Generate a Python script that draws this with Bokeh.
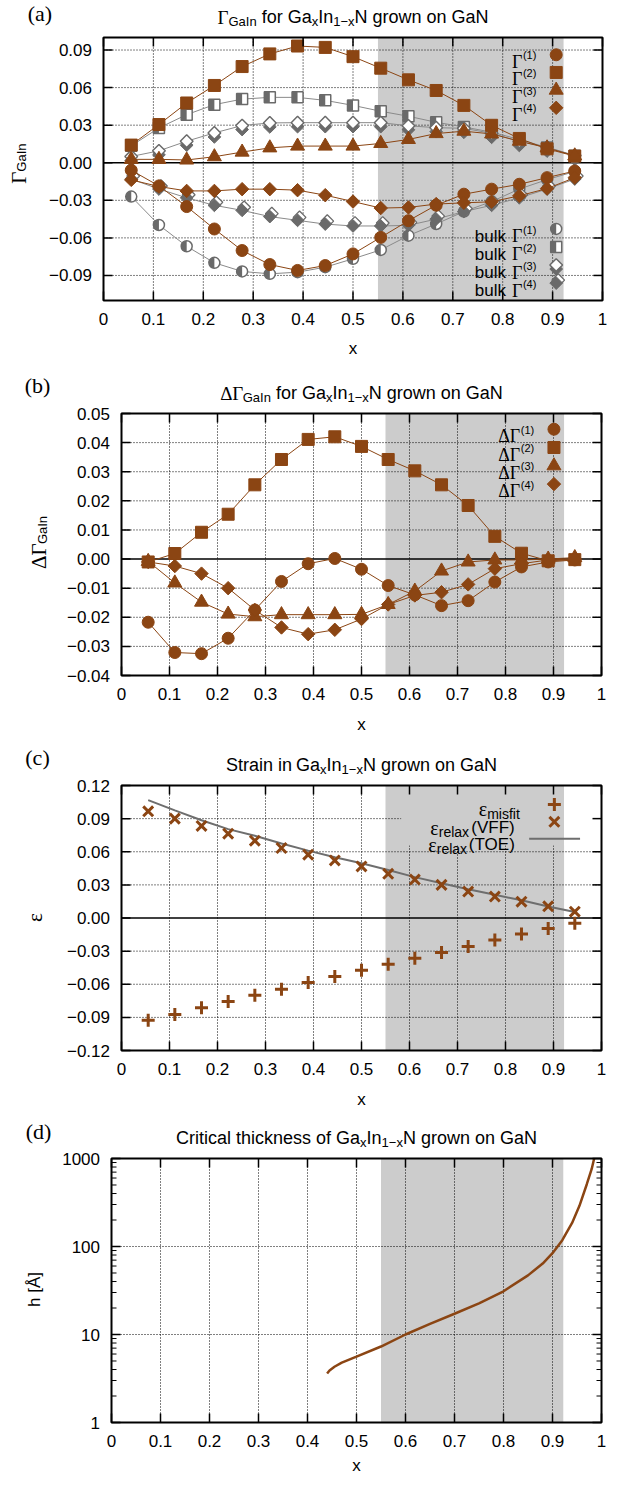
import numpy as np
from bokeh.plotting import figure
from bokeh.models import Label, Range1d
from bokeh.layouts import column
from bokeh.embed import file_html
from bokeh.resources import INLINE
from bokeh.core.properties import value

# ---------------- data ----------------
X = [0.0556, 0.1111, 0.1667, 0.2222, 0.2778, 0.3333, 0.3889, 0.4444, 0.5,
     0.5556, 0.6111, 0.6667, 0.7222, 0.7778, 0.8333, 0.8889, 0.9444]

# panel (a)
G1 = [-0.006, -0.0185, -0.035, -0.0529, -0.0701, -0.0813, -0.086, -0.0821, -0.0728,
      -0.0596, -0.0463, -0.0339, -0.0251, -0.0211, -0.0172, -0.0119, -0.0066]
G2 = [0.0141, 0.0305, 0.0477, 0.0617, 0.0768, 0.0869, 0.0932, 0.0921, 0.0847,
      0.0755, 0.0662, 0.0577, 0.0458, 0.0299, 0.0194, 0.0111, 0.0053]
G3 = [0.0027, 0.0027, 0.0022, 0.0048, 0.0085, 0.0119, 0.0133, 0.0133, 0.0133,
      0.0154, 0.0186, 0.0233, 0.0252, 0.023, 0.0172, 0.0119, 0.0055]
G4 = [-0.0137, -0.019, -0.0225, -0.0225, -0.0211, -0.0211, -0.0219, -0.0259, -0.031,
      -0.0362, -0.0357, -0.033, -0.032, -0.0312, -0.0264, -0.0206, -0.0119]
BG1 = [-0.027, -0.0497, -0.0667, -0.0799, -0.0868, -0.0887, -0.0874, -0.0834, -0.0767,
       -0.0696, -0.0582, -0.0489, -0.039, -0.031, -0.021, -0.0135, -0.007]
BG2 = [0.0135, 0.0278, 0.0384, 0.0464, 0.0508, 0.0522, 0.0522, 0.0498, 0.0458,
       0.0411, 0.0371, 0.0323, 0.0286, 0.0244, 0.0186, 0.0122, 0.0055]
BG3 = [0.005, 0.0095, 0.0172, 0.0238, 0.0297, 0.0318, 0.032, 0.032, 0.032,
       0.032, 0.0295, 0.028, 0.0275, 0.0235, 0.017, 0.0125, 0.0058]
BG4 = [-0.013, -0.021, -0.028, -0.034, -0.038, -0.043, -0.046, -0.049, -0.0505,
       -0.0505, -0.05, -0.045, -0.039, -0.034, -0.028, -0.021, -0.013]

# panel (b)
DG1 = [-0.0217, -0.0321, -0.0325, -0.0272, -0.0175, -0.0077, -0.0016, 0.0002, -0.0035,
       -0.0091, -0.0123, -0.016, -0.0143, -0.0079, -0.0027, -0.001, -0.0003]
DG2 = [-0.001, 0.0019, 0.0092, 0.0154, 0.0255, 0.0342, 0.0411, 0.042, 0.0387,
       0.0342, 0.0303, 0.0255, 0.0184, 0.0078, 0.002, -0.0006, -0.0002]
DG3 = [-0.0008, -0.0082, -0.0148, -0.0189, -0.0198, -0.0191, -0.0191, -0.0191, -0.019,
       -0.0156, -0.011, -0.0041, -0.001, -0.0003, -0.0003, 0.0, 0.0005]
DG4 = [-0.001, -0.0024, -0.005, -0.01, -0.0175, -0.0235, -0.0258, -0.0243, -0.0206,
       -0.0156, -0.0125, -0.0114, -0.0087, -0.0033, -0.0016, -0.0003, 0.0]

# panel (c)
MISFIT = [-0.0927, -0.0873, -0.0812, -0.0757, -0.07, -0.0645, -0.0585, -0.053, -0.0473,
          -0.0418, -0.0364, -0.0312, -0.0258, -0.02, -0.0145, -0.0094, -0.0048]
VFF = [0.0966, 0.09, 0.0834, 0.0764, 0.07, 0.0634, 0.0573, 0.0521, 0.0467,
       0.04, 0.0348, 0.03, 0.0239, 0.0194, 0.0148, 0.0106, 0.0057]
TOE = [0.1067, 0.0975, 0.0885, 0.0805, 0.0745, 0.0675, 0.061, 0.055, 0.0495,
       0.0435, 0.037, 0.0315, 0.026, 0.021, 0.016, 0.0105, 0.0055]

# panel (d)
HX = [0.44, 0.445, 0.455, 0.47, 0.5, 0.55, 0.6, 0.65, 0.7, 0.75, 0.8, 0.85,
      0.88, 0.9, 0.92, 0.94, 0.955, 0.97, 0.98, 0.985]
HY = [3.6, 3.9, 4.3, 4.8, 5.6, 7.3, 10.0, 13.2, 17.2, 22.6, 31.0, 47.0,
      64.0, 84.0, 118.0, 185.0, 290.0, 510.0, 760.0, 1000.0]

SHADE_X = [0.55, 0.922]

XTICKS = [0.0, 0.1, 0.2, 0.3, 0.4, 0.5, 0.6, 0.7, 0.8, 0.9, 1.0]
XTICK_LABELS = ["0", "0.1", "0.2", "0.3", "0.4", "0.5", "0.6", "0.7", "0.8", "0.9", "1"]
YTICKS_A = [-0.09, -0.06, -0.03, 0.0, 0.03, 0.06, 0.09]
YLABELS_A = ["\u22120.09", "\u22120.06", "\u22120.03", "0.00", "0.03", "0.06", "0.09"]
YTICKS_B = [-0.04, -0.03, -0.02, -0.01, 0.0, 0.01, 0.02, 0.03, 0.04, 0.05]
YLABELS_B = ["\u22120.04", "\u22120.03", "\u22120.02", "\u22120.01", "0.00",
             "0.01", "0.02", "0.03", "0.04", "0.05"]
YTICKS_C = [-0.12, -0.09, -0.06, -0.03, 0.0, 0.03, 0.06, 0.09, 0.12]
YLABELS_C = ["\u22120.12", "\u22120.09", "\u22120.06", "\u22120.03", "0.00",
             "0.03", "0.06", "0.09", "0.12"]
YTICKS_D = [1, 10, 100, 1000]
YLABELS_D = ["1", "10", "100", "1000"]
YMINOR_D = [2, 3, 4, 5, 6, 7, 8, 9, 20, 30, 40, 50, 60, 70, 80, 90,
            200, 300, 400, 500, 600, 700, 800, 900]

# ---------------- style ----------------
BROWN = "#8b4513"
GRAY = "#6a6a6a"
GRAYLINE = "#8a8a8a"
SHADE = "#cccccc"
SANS = "Liberation Sans"
SERIF = "Liberation Serif"
TICK_FONT = "17px"

W_SANS = {' ': 278, '(': 333, ')': 333, '[': 278, ']': 278, '.': 278, '\u2212': 584,
          'A': 667, 'C': 722, 'E': 667, 'F': 611, 'G': 778, 'I': 278, 'N': 722,
          'O': 778, 'S': 611, 'T': 611, 'V': 667, '\u00c5': 667,
          'a': 556, 'c': 500, 'e': 556, 'f': 278, 'g': 556, 'h': 556, 'i': 222,
          'k': 500, 'l': 222, 'm': 833, 'n': 556, 'o': 556, 'r': 333, 's': 500,
          't': 278, 'w': 722, 'x': 500, '\u03b5': 450}
W_SERIF = {' ': 250, '\u0393': 578, '\u0394': 612, '\u03b5': 440, '(': 333, ')': 333}


def text_width(s, font, size):
    table = W_SERIF if font == SERIF else W_SANS
    return sum(table.get(c, 556) for c in s) * size / 1000.0


PAGE_L = 8
FIG_W = 607
# r* : plot box in the reference picture, L/R/T/B : plot box on this page,
# top/h : figure placement on this page, hdr : panel letter offset, xl : x label offset
PANELS = {
    'a': dict(rL=110.7, rR=610.7, rT=41.7, rB=305.0, L=111, R=610, T=45, B=308,
              top=8, h=362, yr=(-0.11, 0.10), log=False, hdr=-24, xl=48),
    'b': dict(rL=132.0, rR=617.7, rT=421.0, rB=683.0, L=129, R=609, T=421, B=683,
              top=370, h=375, yr=(-0.04, 0.05), log=False, hdr=-28, xl=49),
    'c': dict(rL=132.0, rR=617.7, rT=796.0, rB=1061.0, L=129, R=609, T=793, B=1058,
              top=745, h=373, yr=(-0.12, 0.12), log=False, hdr=-28, xl=49),
    'd': dict(rL=121.0, rR=618.0, rT=1174.0, rB=1438.0, L=119, R=609, T=1166, B=1430,
              top=1118, h=366, yr=(1, 1000), log=True, hdr=-27, xl=43),
}


def px2x(g, Xm):
    return XTICKS[0] + (Xm - g['L']) / (g['R'] - g['L']) * (XTICKS[-1] - XTICKS[0])


def px2y(g, Ym):
    f = (g['B'] - Ym) / (g['B'] - g['T'])
    y0, y1 = g['yr']
    if g['log']:
        return 10 ** (np.log10(y0) + f * (np.log10(y1) - np.log10(y0)))
    return y0 + f * (y1 - y0)


def r2p(g, Xr, Yr):
    Xm = g['L'] + (Xr - g['rL']) / (g['rR'] - g['rL']) * (g['R'] - g['L'])
    Ym = g['T'] + (Yr - g['rT']) / (g['rB'] - g['rT']) * (g['B'] - g['T'])
    return Xm, Ym


def r2d(g, Xr, Yr):
    Xm, Ym = r2p(g, Xr, Yr)
    return px2x(g, Xm), px2y(g, Ym)


def put_label(p, g, Xm, Ym, text, font=SANS, size=16, align='left',
              baseline='alphabetic', angle=0.0):
    p.add_layout(Label(x=px2x(g, Xm), y=px2y(g, Ym), x_units='data', y_units='data',
                       text=text, text_font=font, text_font_size=f"{size}px",
                       text_align=align, text_baseline=baseline, angle=angle,
                       text_color='black'))


def put_ref_label(p, g, Xr, Yr, text, font=SANS, size=16, align='left',
                  baseline='alphabetic', angle=0.0):
    Xm, Ym = r2p(g, Xr, Yr)
    put_label(p, g, Xm, Ym, text, font, size, align, baseline, angle)


def rich_center(p, g, Xr, Yr, pieces):
    Xc, Yb = r2p(g, Xr, Yr)
    total = sum(text_width(t, f, s) for t, f, s, d in pieces)
    x = Xc - total / 2.0
    for t, f, s, d in pieces:
        core = t.strip(' ')
        lead = len(t) - len(t.lstrip(' '))
        put_label(p, g, x + text_width(' ' * lead, f, s), Yb + d, core, f, s)
        x += text_width(t, f, s)


def rich_vertical(p, g, Xr, Yr, pieces):
    Xb, Yc = r2p(g, Xr, Yr)
    total = sum(text_width(t, f, s) for t, f, s, d in pieces)
    y = Yc + total / 2.0
    for t, f, s, d in pieces:
        put_label(p, g, Xb + d, y, t, f, s, angle=np.pi / 2)
        y -= text_width(t, f, s)


def draw_marker(p, g, kind, xs, ys):
    dxp = (XTICKS[-1] - XTICKS[0]) / (g['R'] - g['L'])
    dyp = (g['yr'][1] - g['yr'][0]) / (g['B'] - g['T'])
    if kind == 'circle':
        p.scatter(xs, ys, marker='circle', size=12, fill_color=BROWN, line_color=BROWN)
    elif kind == 'square':
        p.scatter(xs, ys, marker='square', size=12, fill_color=BROWN, line_color=BROWN)
    elif kind == 'triangle':
        p.scatter(xs, ys, marker='triangle', size=14, fill_color=BROWN, line_color=BROWN)
    elif kind == 'diamond':
        p.scatter(xs, ys, marker='square', angle=np.pi / 4, size=9.5,
                  fill_color=BROWN, line_color=BROWN)
    elif kind == 'plus':
        p.scatter(xs, ys, marker='cross', size=13, line_color=BROWN, line_width=3)
    elif kind == 'x':
        p.scatter(xs, ys, marker='x', size=14, line_color=BROWN, line_width=3)
    elif kind == 'bulk1':
        p.scatter(xs, ys, marker='circle', size=11, fill_color='white',
                  line_color=GRAY, line_width=1.5)
        p.wedge(xs, ys, radius=5.5, radius_units='screen', start_angle=np.pi / 2,
                end_angle=3 * np.pi / 2, fill_color=GRAY, line_color=None)
    elif kind == 'bulk2':
        p.scatter(xs, ys, marker='square', size=11, fill_color='white',
                  line_color=GRAY, line_width=1.5)
        p.rect([x - 2.75 * dxp for x in xs], ys, width=5.5, height=11,
               width_units='screen', height_units='screen', fill_color=GRAY, line_color=None)
    elif kind == 'bulk3':
        p.scatter(xs, [y - 4 * dyp for y in ys], marker='square', angle=np.pi / 4, size=9,
                  fill_color=GRAY, line_color=GRAY)
        p.scatter(xs, ys, marker='square', angle=np.pi / 4, size=9,
                  fill_color='white', line_color=GRAY, line_width=1.5)
    elif kind == 'bulk4':
        p.scatter([x + 2 * dxp for x in xs], [y + 3 * dyp for y in ys], marker='square',
                  angle=np.pi / 4, size=9, fill_color='white', line_color=GRAY, line_width=1.3)
        p.scatter(xs, ys, marker='square', angle=np.pi / 4, size=9,
                  fill_color=GRAY, line_color=GRAY)


def make_fig(key, yticks, key_box=None):
    g = PANELS[key]
    y0, y1 = g['yr']
    p = figure(width=FIG_W, height=g['h'],
               x_range=Range1d(px2x(g, PAGE_L), px2x(g, PAGE_L + FIG_W)),
               y_range=Range1d(px2y(g, g['top'] + g['h']), px2y(g, g['top'])),
               y_axis_type='log' if g['log'] else 'linear',
               x_axis_location=None, y_axis_location=None, min_border=0,
               output_backend='svg', toolbar_location=None)
    p.outline_line_color = None
    p.grid.visible = False
    x0, x1 = XTICKS[0], XTICKS[-1]
    # shaded composition window
    p.quad(left=[SHADE_X[0]], right=[SHADE_X[1]], bottom=[y0], top=[y1],
           fill_color=SHADE, line_color=None)
    # dotted grid
    gx = XTICKS[1:-1]
    p.segment(x0=gx, y0=[y0] * len(gx), x1=gx, y1=[y1] * len(gx),
              line_color='black', line_width=1, line_dash="1 2")
    gy = [t for t in yticks if y0 < t < y1 and t != 0]
    p.segment(x0=[x0] * len(gy), y0=gy, x1=[x1] * len(gy), y1=gy,
              line_color='black', line_width=1, line_dash="1 2")
    if key_box is not None:
        kx0, ky0 = r2d(g, *key_box)
        p.quad(left=[kx0], right=[SHADE_X[1]], bottom=[ky0], top=[y1],
               fill_color=SHADE, line_color=None)
        p.quad(left=[SHADE_X[1]], right=[x1], bottom=[ky0], top=[y1],
               fill_color='white', line_color=None)
    if not g['log']:
        p.line([x0, x1], [0, 0], line_color='black', line_width=1.5)
    return p, g


def finish_fig(p, g, yticks, ylabels, yminor=None):
    y0, y1 = g['yr']
    x0, x1 = XTICKS[0], XTICKS[-1]
    # frame
    p.quad(left=[x0], right=[x1], bottom=[y0], top=[y1], fill_color=None,
           line_color='black', line_width=2)
    # ticks (inward, mirrored)
    tb, tt = px2y(g, g['B'] - 9), px2y(g, g['T'] + 9)
    tl, tr = px2x(g, g['L'] + 9), px2x(g, g['R'] - 9)
    n = len(XTICKS)
    p.segment(x0=XTICKS, y0=[y0] * n, x1=XTICKS, y1=[tb] * n, line_color='black', line_width=1.5)
    p.segment(x0=XTICKS, y0=[y1] * n, x1=XTICKS, y1=[tt] * n, line_color='black', line_width=1.5)
    m = len(yticks)
    p.segment(x0=[x0] * m, y0=yticks, x1=[tl] * m, y1=yticks, line_color='black', line_width=1.5)
    p.segment(x0=[x1] * m, y0=yticks, x1=[tr] * m, y1=yticks, line_color='black', line_width=1.5)
    if yminor:
        k = len(yminor)
        ml, mr = px2x(g, g['L'] + 5), px2x(g, g['R'] - 5)
        p.segment(x0=[x0] * k, y0=yminor, x1=[ml] * k, y1=yminor, line_color='black', line_width=1)
        p.segment(x0=[x1] * k, y0=yminor, x1=[mr] * k, y1=yminor, line_color='black', line_width=1)
    # tick labels
    p.text(x=XTICKS, y=[px2y(g, g['B'] + 18.5)] * n, text=XTICK_LABELS,
           text_font=value(SANS), text_font_size=value(TICK_FONT), text_align='center',
           text_baseline='middle', text_color='black')
    p.text(x=[px2x(g, g['L'] - 11.5)] * m, y=yticks, text=ylabels,
           text_font=value(SANS), text_font_size=value(TICK_FONT), text_align='right',
           text_baseline='middle', text_color='black')
    # x axis label
    put_label(p, g, (g['L'] + g['R']) / 2.0, g['B'] + g['xl'], "x", SANS, 17, align='center')


def panel_header(p, g, letter, pieces):
    put_ref_label(p, g, 47, g['rT'] + g['hdr'], letter, SERIF, 22, align='center',
                  baseline='middle')
    rich_center(p, g, (g['rL'] + g['rR']) / 2.0, g['rT'] - 20.5, pieces)


def alloy_title(prefix_pieces):
    return prefix_pieces + [("Ga", SANS, 18, 0), ("x", SANS, 13, 4), ("In", SANS, 18, 0),
                            ("1\u2212x", SANS, 13, 4), ("N grown on GaN", SANS, 18, 0)]


# ---------------- panel (a) ----------------
pa, ga = make_fig('a', YTICKS_A)
for ys in (BG1, BG2, BG3, BG4):
    pa.line(X, ys, line_color=GRAYLINE, line_width=1)
for ys, kind in ((BG1, 'bulk1'), (BG2, 'bulk2'), (BG3, 'bulk3'), (BG4, 'bulk4')):
    draw_marker(pa, ga, kind, X, ys)
for ys, kind in ((G1, 'circle'), (G2, 'square'), (G3, 'triangle'), (G4, 'diamond')):
    pa.line(X, ys, line_color=BROWN, line_width=1)
    draw_marker(pa, ga, kind, X, ys)
finish_fig(pa, ga, YTICKS_A, YLABELS_A)
panel_header(pa, ga, "(a)", alloy_title([("\u0393", SERIF, 19, 0), ("GaIn", SANS, 13, 4),
                                           (" for ", SANS, 18, 0)]))
rich_vertical(pa, ga, 26, 168, [("\u0393", SERIF, 21, 0), ("GaIn", SANS, 13, 3)])
for r, kind in enumerate(['circle', 'square', 'triangle', 'diamond']):
    Yr = 59 + 17.7 * r
    put_ref_label(pa, ga, 530.5, Yr + 7, "\u0393", SERIF, 18, align='right')
    put_ref_label(pa, ga, 531.0, Yr + 0.5, f"({r + 1})", SANS, 11)
    mx, my = r2d(ga, 564.3, Yr)
    draw_marker(pa, ga, kind, [mx], [my])
for r, kind in enumerate(['bulk1', 'bulk2', 'bulk3', 'bulk4']):
    Yr = 233.3 + 18.1 * r
    put_ref_label(pa, ga, 514.0, Yr + 7.5, "bulk", SANS, 17, align='right')
    put_ref_label(pa, ga, 530.5, Yr + 7.5, "\u0393", SERIF, 18, align='right')
    put_ref_label(pa, ga, 531.0, Yr + 1.0, f"({r + 1})", SANS, 11)
    mx, my = r2d(ga, 564.3, Yr)
    draw_marker(pa, ga, kind, [mx], [my])

# ---------------- panel (b) ----------------
pb, gb = make_fig('b', YTICKS_B)
for ys, kind in ((DG1, 'circle'), (DG2, 'square'), (DG3, 'triangle'), (DG4, 'diamond')):
    pb.line(X, ys, line_color=BROWN, line_width=1)
    draw_marker(pb, gb, kind, X, ys)
finish_fig(pb, gb, YTICKS_B, YLABELS_B)
panel_header(pb, gb, "(b)", alloy_title([("\u0394\u0393", SERIF, 19, 0), ("GaIn", SANS, 13, 4),
                                           (" for ", SANS, 18, 0)]))
rich_vertical(pb, gb, 49, 550, [("\u0394\u0393", SERIF, 21, 0), ("GaIn", SANS, 13, 3)])
for r, kind in enumerate(['circle', 'square', 'triangle', 'diamond']):
    Yr = 436.7 + 18.3 * r
    put_ref_label(pb, gb, 535.5, Yr + 7, "\u0394\u0393", SERIF, 18, align='right')
    put_ref_label(pb, gb, 536.0, Yr + 0.5, f"({r + 1})", SANS, 11)
    mx, my = r2d(gb, 569.6, Yr)
    draw_marker(pb, gb, kind, [mx], [my])

# ---------------- panel (c) ----------------
pc, gc = make_fig('c', YTICKS_C, key_box=(415, 856))
pc.line(X, TOE, line_color="#6e6e6e", line_width=2)
draw_marker(pc, gc, 'x', X, VFF)
draw_marker(pc, gc, 'plus', X, MISFIT)
finish_fig(pc, gc, YTICKS_C, YLABELS_C)
panel_header(pc, gc, "(c)", alloy_title([("Strain in ", SANS, 18, 0)]))
rich_vertical(pc, gc, 44, 928, [("\u03b5", SERIF, 21, 0)])
put_ref_label(pc, gc, 502, 815 + 4, "\u03b5", SERIF, 20, align='right')
put_ref_label(pc, gc, 502, 815 + 9, "misfit", SANS, 14)
mx, my = r2d(gc, 570, 815)
draw_marker(pc, gc, 'plus', [mx], [my])
put_ref_label(pc, gc, 453, 832.3 + 6, "\u03b5", SERIF, 20, align='right')
put_ref_label(pc, gc, 453, 832.3 + 10, "relax", SANS, 14)
put_ref_label(pc, gc, 486, 832.3 + 6, "(VFF)", SANS, 17)
mx, my = r2d(gc, 570, 832.3)
draw_marker(pc, gc, 'x', [mx], [my])
put_ref_label(pc, gc, 451, 849.3 + 6, "\u03b5", SERIF, 20, align='right')
put_ref_label(pc, gc, 451, 849.3 + 10, "relax", SANS, 14)
put_ref_label(pc, gc, 483.5, 849.3 + 6, "(TOE)", SANS, 17)
lx0, ly0 = r2d(gc, 544.5, 849.3)
lx1, _ = r2d(gc, 596, 849.3)
pc.line([lx0, lx1], [ly0, ly0], line_color="#6e6e6e", line_width=2)

# ---------------- panel (d) ----------------
pd_, gd = make_fig('d', YTICKS_D)
pd_.line(HX, HY, line_color=BROWN, line_width=2.5)
finish_fig(pd_, gd, YTICKS_D, YLABELS_D, yminor=YMINOR_D)
panel_header(pd_, gd, "(d)", alloy_title([("Critical thickness of ", SANS, 18, 0)]))
rich_vertical(pd_, gd, 43, 1305, [("h [\u00c5]", SANS, 17, 0)])

layout = column(pa, pb, pc, pd_, spacing=0)
open("out.html", "w").write(file_html(layout, INLINE))
